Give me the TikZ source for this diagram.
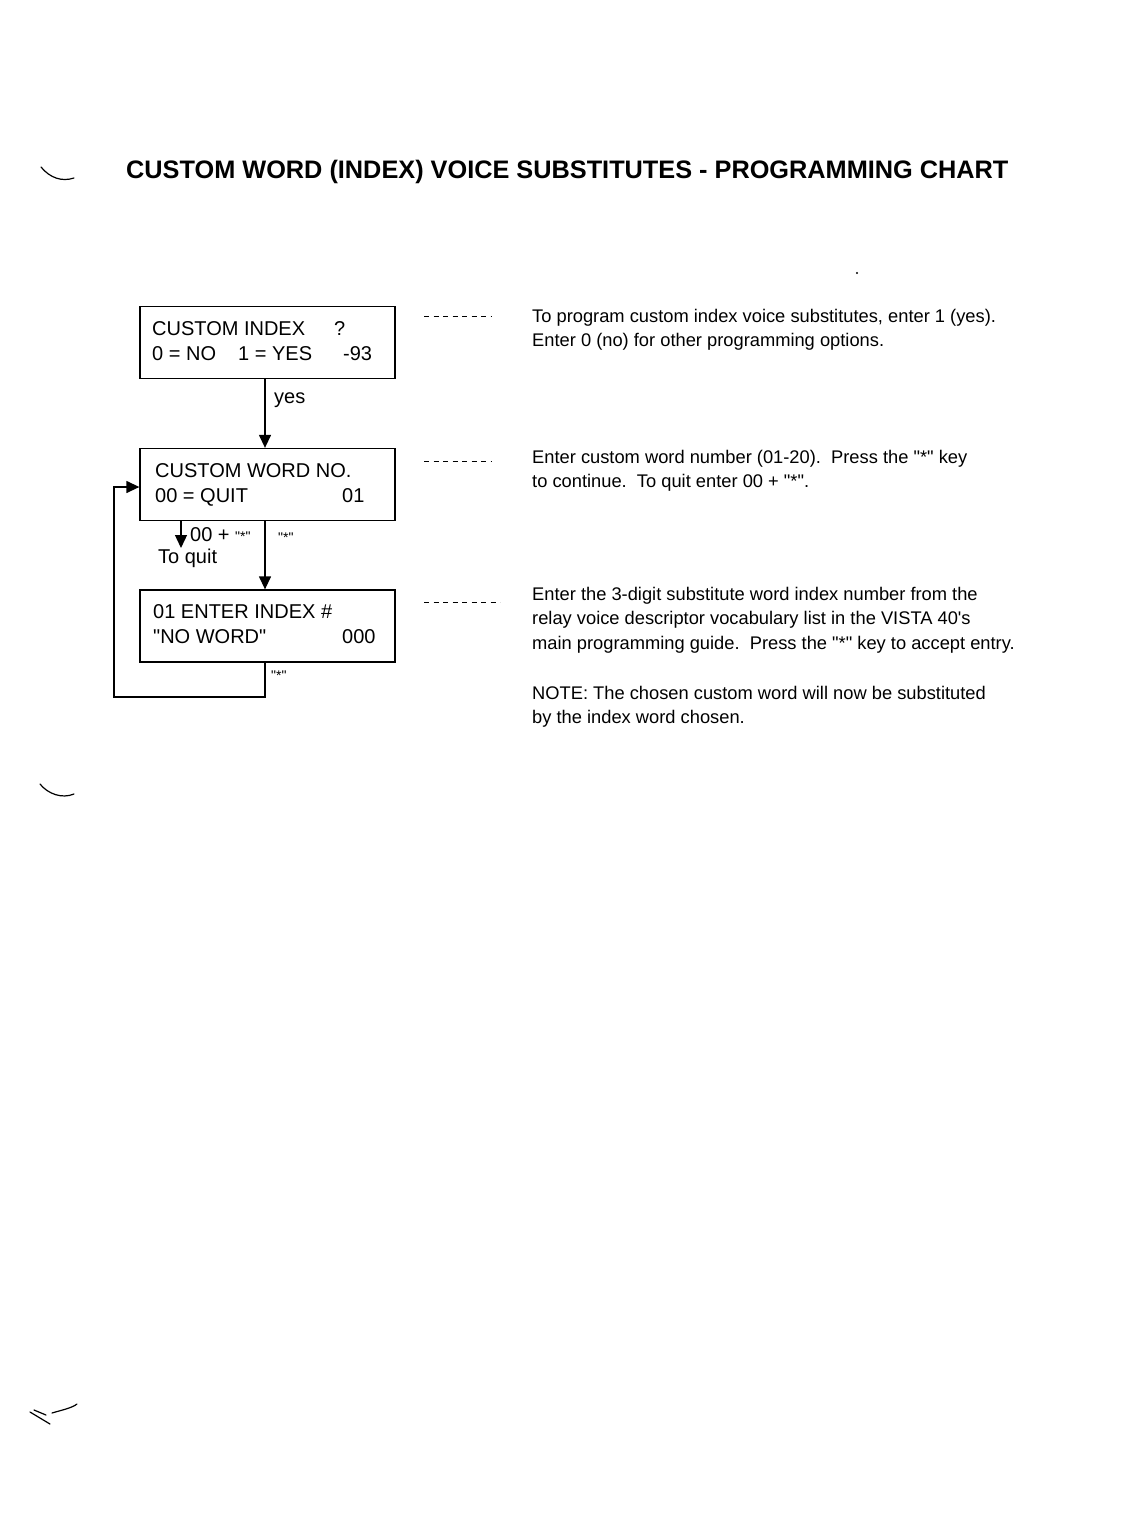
\documentclass[tikz,border=0pt]{standalone}
\usepackage{fontspec}
\setmainfont{Liberation Sans}
\newfontfamily\plainfont{Liberation Sans}
\usetikzlibrary{arrows.meta}
\begin{document}
\begin{tikzpicture}[x=1pt,y=-1pt,
  box/.style={draw,line width=1.3pt,minimum width=255pt,minimum height=72pt,inner sep=0pt},
  boxtxt/.style={anchor=base west,inner sep=0pt,font=\plainfont\fontsize{20}{22}\selectfont},
  smalltxt/.style={anchor=base west,inner sep=0pt,font=\plainfont\fontsize{14}{15}\selectfont},
  note/.style={anchor=base west,inner sep=0pt,font=\plainfont\fontsize{18.3}{20}\selectfont},
  arr/.style={line width=1.3pt,-{Triangle[width=12pt,length=13pt]}},
  dashline/.style={line width=0.8pt,dash pattern=on 5pt off 4.5pt},
  scanmark/.style={line width=1.2pt,line cap=round}]
\useasboundingbox (0,0) rectangle (1120,1526);

% title
\node[anchor=base west,inner sep=0pt,font=\plainfont\bfseries\fontsize{25.3}{28}\selectfont] (title) at (126,178.5)
  {CUSTOM WORD (INDEX) VOICE SUBSTITUTES - PROGRAMMING CHART};

% boxes
\node[box] (b1) at (267.5,342.5) {};
\node[box] (b2) at (267.5,484.5) {};
\node[box] (b3) at (267.5,626) {};

% box texts
\node[boxtxt] (t1a) at (152,335) {CUSTOM INDEX};
\node[boxtxt] (t1b) at (334,335) {?};
\node[boxtxt] (t1c) at (152,360) {0 = NO};
\node[boxtxt] (t1d) at (238,360) {1 = YES};
\node[boxtxt] (t1e) at (343,360) {-93};
\node[boxtxt] (t2a) at (155,477) {CUSTOM WORD NO.};
\node[boxtxt] (t2b) at (155,502) {00 = QUIT};
\node[boxtxt] (t2c) at (342,502) {01};
\node[boxtxt] (t3a) at (153,618) {01 ENTER INDEX \#};
\node[boxtxt] (t3b) at (153,643) {"NO WORD"};
\node[boxtxt] (t3c) at (342,643) {000};

% connectors
\coordinate (ax) at (265,0);
\coordinate (qx) at (181,0);
\coordinate (qend) at (181,548);
\coordinate (lc) at (114,697);
\coordinate (lt) at (114,487);
\draw[arr] (ax |- b1.south) -- (ax |- b2.north);
\draw[arr] (ax |- b2.south) -- (ax |- b3.north);
\draw[arr] (qx |- b2.south) -- (qend);
\draw[arr] (ax |- b3.south) |- (lc) -- (lt) -- (lt -| b2.west);

% connector labels
\node[boxtxt] (lyes) at (274,403) {yes};
\node[boxtxt] (lq) at (190,541) {00 + {\fontsize{14}{15}\selectfont"*"}};
\node[boxtxt] (lquit) at (158,563) {To quit};
\node[smalltxt] (ls1) at (278,542) {"*"};
\node[smalltxt] (ls2) at (271,680) {"*"};

% dashed leaders
\coordinate (d1a) at (424,316); \coordinate (d1b) at (492,316);
\coordinate (d2a) at (424,461); \coordinate (d2b) at (492,461);
\coordinate (d3a) at (424,602); \coordinate (d3b) at (500,602);
\draw[dashline] (d1a) -- (d1b);
\draw[dashline] (d2a) -- (d2b);
\draw[dashline] (d3a) -- (d3b);

% notes
\node[note] (n1a) at (532,322) {To program custom index voice substitutes, enter 1 (yes).};
\node[note] (n1b) at (532,346) {Enter 0 (no) for other programming options.};
\node[note] (n2a) at (532,463) {Enter custom word number (01-20).\ \ Press the "*" key};
\node[note] (n2b) at (532,487) {to continue.\ \ To quit enter 00 + "*".};
\node[note] (n3a) at (532,600) {Enter the 3-digit substitute word index number from the};
\node[note] (n3b) at (532,624) {relay voice descriptor vocabulary list in the VISTA 40's};
\node[note] (n3c) at (532,649) {main programming guide.\ \ Press the "*" key to accept entry.};
\node[note] (n4a) at (532,699) {NOTE: The chosen custom word will now be substituted};
\node[note] (n4b) at (532,723) {by the index word chosen.};

% scan marks
\draw[scanmark] (41,167) .. controls (50,178) and (62,182) .. (74,178);
\draw[scanmark] (40,784) .. controls (48,794) and (62,799) .. (74,794);
\draw[scanmark] (30,1412) -- (50,1424);
\draw[scanmark] (34,1410) -- (46,1415);
\draw[scanmark] (52,1413) .. controls (62,1410) and (72,1408) .. (77,1404);
\fill (857,273) circle (1.2pt);
\end{tikzpicture}
\end{document}
